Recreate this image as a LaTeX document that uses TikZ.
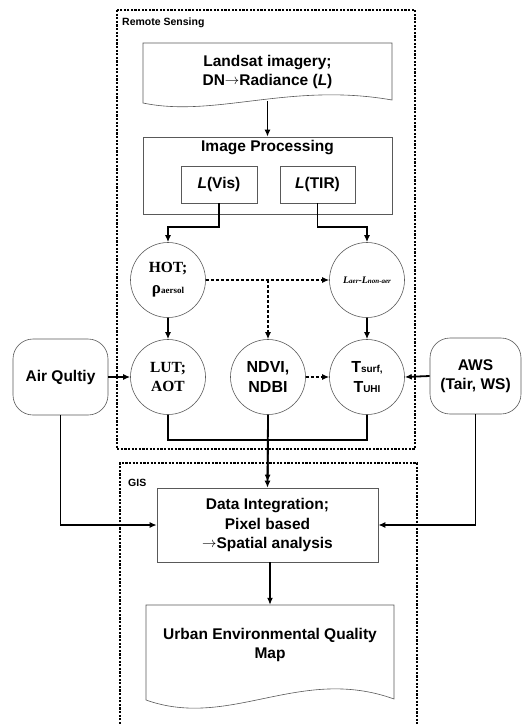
\documentclass[tikz,border=0pt]{standalone}
\usepackage{fontspec}
\setmainfont{Liberation Sans}
\newfontfamily\serifbf{Liberation Serif}
\usetikzlibrary{arrows.meta}
\newcommand{\rarr}{\raisebox{0.1ex}{$\rightarrow$}}
\tikzset{
  thinbox/.style={draw=black!65, line width=0.6pt},
  lbl/.style={font=\fontsize{15.5}{19.5}\selectfont\bfseries, align=center, inner sep=0pt},
  circ/.style={circle, thinbox, minimum size=75pt, inner sep=0pt, align=center},
  rbox/.style={thinbox, rounded corners=20pt, inner sep=0pt, align=center},
  arr/.style={line width=1.8pt, -{Latex[length=7pt,width=6pt]}},
  plainline/.style={line width=1.8pt},
  darr/.style={line width=1.3pt, dash pattern=on 3pt off 2pt, -{Latex[length=7pt,width=6pt]}},
  frame/.style={line width=1.3pt, dash pattern=on 2.2pt off 1.4pt},
  tag/.style={font=\fontsize{10.5}{12}\selectfont\bfseries, inner sep=0pt, anchor=west}
}
\begin{document}
\begin{tikzpicture}[x=1pt,y=-1pt]
\useasboundingbox[fill=white] (0,0) rectangle (526,724);

% frames
\draw[frame] (117,10) rectangle (415,449);
\draw[frame] (120,724) -- (120,463) -- (417,463) -- (417,724);
\node[tag] (rs) at (122,23) {Remote Sensing};
\node[tag] (gis) at (128,483) {GIS};

% Landsat document
\draw[thinbox] (143,43) -- (392,43) -- (392,100) .. controls (290,82) and (215,118) .. (143,103) -- cycle;
\node[lbl, minimum width=249pt, minimum height=58pt] (landsat) at (267.5,72)
  {Landsat imagery;\\DN\rarr Radiance (\textit{L})};

% Image processing
\node[thinbox, minimum width=249pt, minimum height=77pt, inner sep=0pt] (imgproc) at (267.5,175.5) {};
\node[lbl] (iptitle) at (267.5,148) {Image Processing};
\node[lbl, thinbox, minimum width=76pt, minimum height=37pt] (lvis) at (219,184.5) {\textit{L}(Vis)};
\node[lbl, thinbox, minimum width=75pt, minimum height=37pt] (ltir) at (317.5,184.5) {\textit{L}(TIR)};

% circles
\node[circ, font=\serifbf\bfseries\fontsize{15.5}{21}\selectfont] (hot) at (168,280)
  {HOT;\\{\fontsize{17}{17}\selectfont ρ}{\fontsize{9}{10}\selectfont aersol}};
\node[circ, font=\serifbf\bfseries\itshape] (laer) at (367,280)
  {\fontsize{10}{10}\selectfont L{\fontsize{7}{8}\selectfont aer}-L{\fontsize{7}{8}\selectfont non-aer}};
\node[circ, font=\serifbf\bfseries\fontsize{15.5}{19.5}\selectfont] (lut) at (168,377) {LUT;\\AOT};
\node[circ, font=\bfseries\fontsize{16}{19.5}\selectfont] (ndvi) at (268,377) {NDVI,\\NDBI};
\node[circ, font=\bfseries\fontsize{16}{19.5}\selectfont] (tsurf) at (367,377)
  {T{\fontsize{10}{12}\selectfont surf,}\\T{\fontsize{10}{12}\selectfont UHI}};

% side inputs
\node[rbox, lbl, thinbox, minimum width=95pt, minimum height=76pt] (air) at (60.5,377) {Air Qultiy};
\node[rbox, lbl, thinbox, minimum width=91pt, minimum height=76pt] (aws) at (475.5,376) {AWS\\(Tair, WS)};

% GIS part
\node[lbl, thinbox, minimum width=221pt, minimum height=74pt] (data) at (267.5,525)
  {Data Integration;\\Pixel based\\\rarr Spatial analysis};
\draw[thinbox] (146,605) -- (394,605) -- (394,699) .. controls (300,665) and (230,730) .. (146,700) -- cycle;
\node[lbl, minimum width=248pt, minimum height=80pt] (urban) at (270,645)
  {Urban Environmental Quality\\Map};

% connectors
\draw[arr] (landsat.south) -- (imgproc.north);
\draw[arr] (lvis.south) -- ++(0,24) -| (hot.north);
\draw[arr] (ltir.south) -- ++(0,24) -| (laer.north);
\draw[darr] (hot.east) -- (laer.west);
\coordinate (dm) at (268,280);
\draw[darr] (dm) -- (ndvi.north);
\draw[arr] (hot.south) -- (lut.north);
\draw[arr] (laer.south) -- (tsurf.north);
\draw[darr] (ndvi.east) -- (tsurf.west);
\draw[arr] (air.east) -- (lut.west);
\draw[arr] (aws.west) -- (tsurf.east);
\coordinate (jn) at (268,440);
\draw[plainline] (lut.south) |- (jn) -| (tsurf.south);
\draw[arr] (ndvi.south) -- (data.north);
\draw[arr, shorten >=6pt] (jn) -- (data.north);
\draw[arr] (air.south) |- (data.west);
\draw[arr] (aws.south) |- (data.east);
\draw[arr] (data.south -| urban.north) -- (urban.north);
\end{tikzpicture}
\end{document}
